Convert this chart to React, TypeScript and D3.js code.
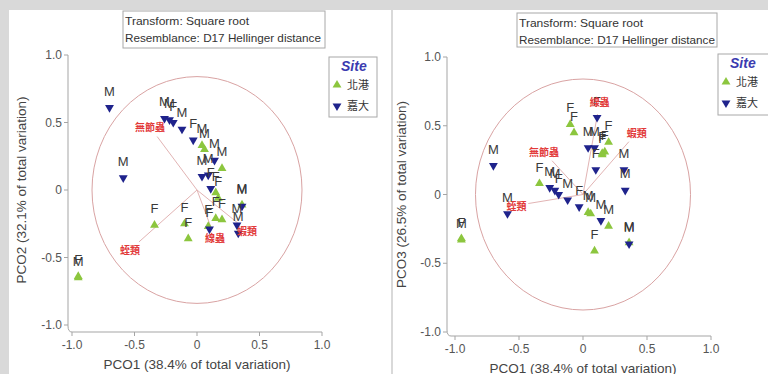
import React from 'react';
import * as d3 from 'd3';

// sample attributes and PCO scores
const sampleSite = ['嘉大', '嘉大', '北港', '北港', '北港', '北港', '北港', '嘉大', '嘉大', '嘉大', '嘉大', '嘉大', '北港', '北港', '嘉大', '北港', '嘉大', '嘉大', '嘉大', '北港', '北港', '北港', '嘉大', '北港', '嘉大', '北港', '北港', '嘉大', '嘉大'];
const sampleSex = ['M', 'M', 'M', 'F', 'F', 'F', 'F', 'M', 'M', 'F', 'M', 'F', 'M', 'M', 'M', 'M', 'M', 'M', 'F', 'F', 'F', 'M', 'M', 'F', 'F', 'F', 'F', 'M', 'M'];
const pco1 = [-0.7, -0.59, -0.95, -0.95, -0.34, -0.1, -0.07, -0.26, -0.22, -0.19, -0.12, -0.03, 0.04, 0.06, 0.14, 0.2, 0.04, 0.09, 0.11, 0.15, 0.17, 0.36, 0.36, 0.09, 0.1, 0.15, 0.2, 0.32, 0.33];
const pco2 = [0.61, 0.09, -0.65, -0.64, -0.26, -0.25, -0.36, 0.53, 0.52, 0.5, 0.45, 0.37, 0.33, 0.3, 0.22, 0.16, 0.1, 0.11, 0.01, -0.02, -0.06, -0.11, -0.12, -0.27, -0.29, -0.21, -0.22, -0.26, -0.32];
const pco3 = [0.21, -0.14, -0.33, -0.32, 0.08, 0.51, 0.45, 0.05, 0.03, 0.0, -0.04, -0.09, -0.13, -0.14, -0.19, -0.23, 0.34, 0.34, 0.56, 0.29, 0.31, -0.35, -0.36, -0.41, 0.18, 0.3, 0.38, 0.18, 0.03];

const sites = ['北港', '嘉大'];
const tickValues = [-1, -0.5, 0, 0.5, 1];
const tickLabels = ['-1.0', '-0.5', '0', '0.5', '1.0'];

// vector overlay (species correlations)
const vectorNames = ['無節蟲', '蛭類', '線蟲', '蝦類'];
const vectorsPco2 = [[-0.376, 0.467], [-0.536, -0.444], [0.144, -0.356], [0.4, -0.3]];
const vectorsPco3 = [[-0.305, 0.31], [-0.52, -0.08], [0.13, 0.67], [0.42, 0.45]];
const circleRadius = 0.84;

const GREEN = '#8cc63e';
const BLUE = '#1f238c';
const LATIN = '"Liberation Sans", Arial, sans-serif';
const CJK = '"Noto Sans CJK TC", "Noto Sans CJK SC", sans-serif';

const up = d3.symbol(d3.symbolTriangle, 34)();

const Marker = ({ site, x, y }) => (
  <path
    d={up}
    transform={`translate(${x},${y}) ${site === '北港' ? '' : 'rotate(180)'}`}
    fill={site === '北港' ? GREEN : BLUE}
  />
);

const Panel = ({ cfg, ys, vectors, yTitle }) => {
  const x = d3.scaleLinear().domain([-1, 1]).range(cfg.xRange);
  const y = d3.scaleLinear().domain([-1, 1]).range(cfg.yRange);
  const ox = x(0);
  const oy = y(0);
  const rx = x(circleRadius) - ox;
  const ry = oy - y(circleRadius);
  const axisPath = `M${cfg.yAxisX},${y(1)}V${cfg.xAxisY - 6}Q${cfg.yAxisX},${cfg.xAxisY} ${cfg.yAxisX + 4},${cfg.xAxisY}H${x(1)}`;

  return (
    <g>
      <rect x={cfg.panel[0]} y={cfg.panel[1]} width={cfg.panel[2]} height={cfg.panel[3]} fill="#fff" />
      {/* header */}
      <rect x={cfg.header[0]} y={cfg.header[1]} width={cfg.header[2]} height={cfg.header[3]} fill="#fff" stroke="#a8a8a8" strokeWidth={1} />
      <text x={cfg.header[0] + 2} y={cfg.header[1] + 14} fontFamily={LATIN} fontSize={11} fill="#333" textLength={124} lengthAdjust="spacingAndGlyphs">Transform: Square root</text>
      <text x={cfg.header[0] + 2} y={cfg.header[1] + 31} fontFamily={LATIN} fontSize={11} fill="#333" textLength={196} lengthAdjust="spacingAndGlyphs">Resemblance: D17 Hellinger distance</text>

      {/* axes */}
      <path d={axisPath} fill="none" stroke="#a5a5a5" strokeWidth={1} />
      {tickValues.map((t, i) => (
        <g key={'y' + i}>
          <line x1={cfg.yAxisX - 4} x2={cfg.yAxisX} y1={y(t)} y2={y(t)} stroke="#a5a5a5" />
          <text x={cfg.yAxisX - 6} y={y(t) + 4} textAnchor="end" fontFamily={LATIN} fontSize={12} fill="#555">{tickLabels[i]}</text>
        </g>
      ))}
      {tickValues.map((t, i) => (
        <g key={'x' + i}>
          <line x1={x(t)} x2={x(t)} y1={cfg.xAxisY} y2={cfg.xAxisY + 4} stroke="#a5a5a5" />
          <text x={x(t)} y={cfg.xAxisY + 17} textAnchor="middle" fontFamily={LATIN} fontSize={12} fill="#555">{tickLabels[i]}</text>
        </g>
      ))}
      <text x={(x(-1) + x(1)) / 2} y={cfg.xAxisY + 37} textAnchor="middle" fontFamily={LATIN} fontSize={13.5} fill="#444">PCO1 (38.4% of total variation)</text>
      <text transform={`translate(${cfg.yTitleX},${(y(1) + y(-1)) / 2}) rotate(-90)`} textAnchor="middle" fontFamily={LATIN} fontSize={13.5} fill="#444">{yTitle}</text>

      {/* correlation circle and vectors */}
      <ellipse cx={ox} cy={oy} rx={rx} ry={ry} fill="none" stroke="#d9a3a3" strokeWidth={1} />
      {vectors.map((v, i) => {
        const ex = x(v[0]);
        const ey = y(v[1]);
        const len = Math.hypot(ex - ox, ey - oy);
        const k = (len - 12) / len;
        return <line key={'v' + i} x1={ox} y1={oy} x2={ox + (ex - ox) * k} y2={oy + (ey - oy) * k} stroke="#e2b4b4" strokeWidth={1} />;
      })}

      {/* samples */}
      {pco1.map((p, i) => (
        <Marker key={'m' + i} site={sampleSite[i]} x={x(p)} y={y(ys[i])} />
      ))}
      {pco1.map((p, i) => (
        <text key={'l' + i} x={x(p)} y={y(ys[i]) - 12} textAnchor="middle" fontFamily={LATIN} fontSize={13} fill="#3a3a3a">
          {sampleSex[i]}
        </text>
      ))}
      {vectors.map((v, i) => (
        <text key={'vn' + i} x={x(v[0])} y={y(v[1]) + 4} textAnchor="middle" fontFamily={CJK} fontWeight="bold" fontSize={10} fill="#e23a3a">
          {vectorNames[i]}
        </text>
      ))}

      {/* legend */}
      <rect x={cfg.legend[0]} y={cfg.legend[1]} width={cfg.legend[2]} height={cfg.legend[3]} fill="#fff" stroke="#a8a8a8" />
      <text x={cfg.legend[0] + 12} y={cfg.legend[1] + 14} fontFamily={LATIN} fontStyle="italic" fontWeight="bold" fontSize={14} fill="#3b3bb0">Site</text>
      {sites.map((s, i) => (
        <g key={s}>
          <Marker site={s} x={cfg.legend[0] + 8} y={cfg.legend[1] + 28 + i * 21} />
          <text x={cfg.legend[0] + 18} y={cfg.legend[1] + 32 + i * 21} fontFamily={CJK} fontSize={11} fill="#333">{s}</text>
        </g>
      ))}
    </g>
  );
};

const leftCfg = {
  panel: [9, 10, 382, 364],
  header: [123, 11, 202, 37],
  legend: [329, 57, 48, 60],
  xRange: [72, 322],
  yRange: [325, 55],
  yAxisX: 68,
  xAxisY: 332,
  yTitleX: 26,
};

const rightCfg = {
  panel: [393, 10, 375, 364],
  header: [517, 13, 200, 34],
  legend: [718, 54, 60, 61],
  xRange: [455, 711],
  yRange: [332, 57],
  yAxisX: 447,
  xAxisY: 336,
  yTitleX: 406,
};

export default function App() {
  return (
    <svg width={768} height={374} style={{ position: 'fixed', left: 0, top: 0, display: 'block' }}>
      <rect width={768} height={374} fill="#d9d9d9" />
      <Panel cfg={leftCfg} ys={pco2} vectors={vectorsPco2} yTitle="PCO2 (32.1% of total variation)" />
      <Panel cfg={rightCfg} ys={pco3} vectors={vectorsPco3} yTitle="PCO3 (26.5% of total variation)" />
    </svg>
  );
}
